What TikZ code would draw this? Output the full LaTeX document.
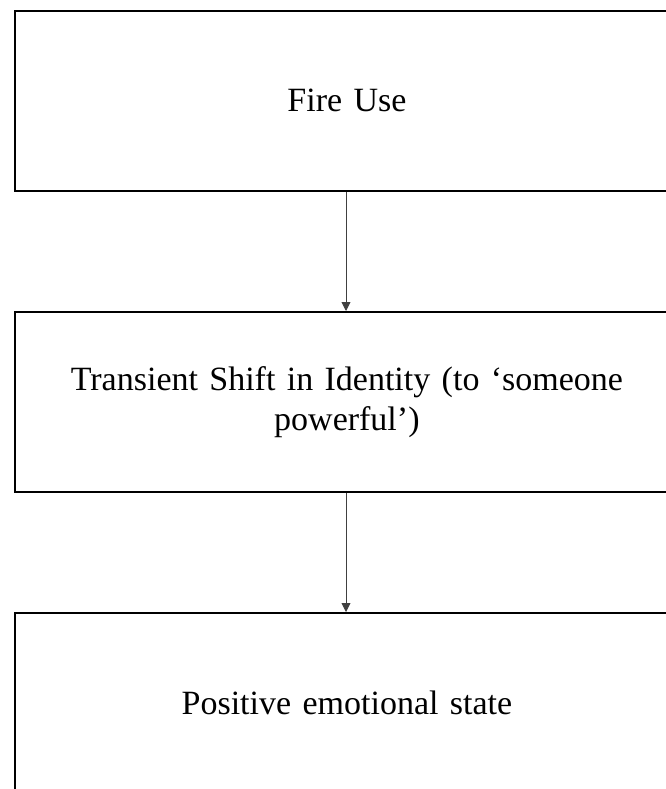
\documentclass[tikz,border=0pt]{standalone}
\usepackage{fontspec}
\setmainfont{Liberation Serif}
\usetikzlibrary{arrows.meta}
\begin{document}
\begin{tikzpicture}[x=1pt,y=-1pt,
  flowbox/.style={draw=black,line width=1.8pt,minimum width=664pt,minimum height=180pt,
    inner sep=0pt,align=center,text width=640pt,anchor=north west,
    font=\fontsize{34}{40}\selectfont},
  flowarrow/.style={draw=black!75,line width=0.9pt,-{Triangle[length=9pt,width=9pt]}}]
\useasboundingbox (0,0) rectangle (665,789);
\node[flowbox] (a) at (14,10) {Fire Use};
\node[flowbox] (b) at (14,311) {Transient Shift in Identity (to ‘someone\\ powerful’)};
\node[flowbox] (c) at (14,612) {Positive emotional state};
\draw[flowarrow] (a.south -| 346,0) -- (b.north -| 346,0);
\draw[flowarrow] (b.south -| 346,0) -- (c.north -| 346,0);
\end{tikzpicture}
\end{document}
